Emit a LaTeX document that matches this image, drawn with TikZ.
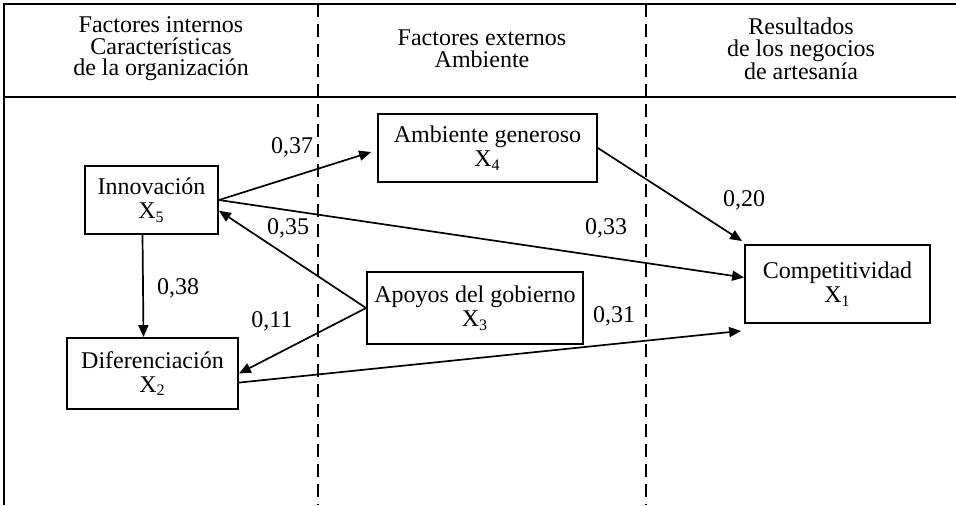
\documentclass[tikz,border=0pt]{standalone}
\usepackage{fontspec}
\setmainfont{Liberation Serif}
\usetikzlibrary{arrows.meta, positioning, calc}

\begin{document}
\begin{tikzpicture}[
    x=0.5pt, y=-0.5pt,
    box/.style={draw, line width=0.9pt, inner sep=0pt, align=center, font=\fontsize{12}{12}\selectfont},
    head/.style={align=center, inner sep=0pt, font=\fontsize{12}{10.8}\selectfont},
    lbl/.style={inner sep=0pt, font=\fontsize{12}{12}\selectfont},
    arr/.style={-{Triangle[length=6pt, width=5pt]}, line width=0.85pt},
    sep/.style={dash pattern=on 6.5pt off 3.5pt, line width=0.9pt}
  ]
    \useasboundingbox (0,0) rectangle (956,505);

    % frame and column separators
    \draw[line width=1.2pt] (4,505) -- (4,4) -- (956,4);
    \draw[line width=1.4pt] (4,97) -- (956,97);
    \draw[sep] (318,4) -- (318,505);
    \draw[sep] (646,4) -- (646,505);

    \node[head] (intern) at (161,49) {Factores internos\\Características\\de la organización};
    \node[head] (extern) at (482,49) {Factores externos\\Ambiente};
    \node[head] (result) at (801,49) {Resultados\\de los negocios\\de artesanía};

    \node[box, minimum width=66.5pt, minimum height=34pt] (innov) at (151.5,200) {Innovación\\X\textsubscript{5}};
    \node[box, minimum width=85.5pt, minimum height=35.5pt] (difer) at (152.5,373.5) {Diferenciación\\X\textsubscript{2}};
    \node[box, minimum width=109.5pt, minimum height=34pt] (ambiente) at (487.5,148) {Ambiente generoso\\X\textsubscript{4}};
    \node[box, minimum width=108pt, minimum height=36pt] (apoyos) at (475,308) {Apoyos del gobierno\\X\textsubscript{3}};
    \node[box, minimum width=92.5pt, minimum height=39pt] (compet) at (837.5,284) {Competitividad\\X\textsubscript{1}};

    \draw[arr] (innov.east) -- ([xshift=-3pt, yshift=-2pt]ambiente.west);
    \draw[arr] (innov.east) -- (compet.176);
    \draw[arr] (apoyos.west) -- (innov.-9);
    \draw[arr] (apoyos.west) -- (difer.east);
    \draw[arr] ([xshift=-4.5pt]innov.south) -- ([xshift=-4.5pt]difer.north);
    \draw[arr] (difer.-6) -- ([xshift=-1.5pt, yshift=-3.5pt]compet.south west);
    \draw[arr] (ambiente.east) -- ([xshift=-1pt, yshift=1.5pt]compet.north west);

    \node[lbl] (w37) at (292,147) {0,37};
    \node[lbl] (w35) at (288,228) {0,35};
    \node[lbl] (w38) at (178,288) {0,38};
    \node[lbl] (w11) at (272,321) {0,11};
    \node[lbl] (w33) at (606,228) {0,33};
    \node[lbl] (w31) at (614,316) {0,31};
    \node[lbl] (w20) at (744,200) {0,20};
  \end{tikzpicture}
\end{document}
